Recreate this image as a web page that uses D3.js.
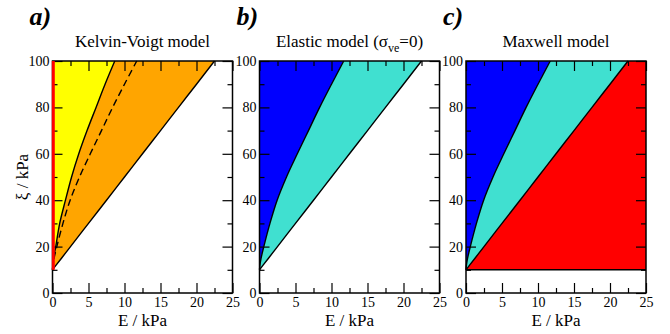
<!DOCTYPE html>
<html>
<head>
<meta charset="utf-8">
<script src="https://cdn.jsdelivr.net/npm/d3@7"></script>
</head>
<body style="margin:0">
<script>
// xi (kPa) sampled along the boundaries, and E (kPa) of each boundary at those xi
var xiGrid   = [10, 12, 15, 20, 30, 40, 50, 60, 70, 80, 90, 100];
var kvE      = [0, 0.05, 0.15, 0.45, 1.0, 1.8, 2.65, 3.65, 4.8, 6.05, 7.3, 8.65];
var elasticE = [0, 0.06, 0.22, 0.6, 1.45, 2.45, 3.75, 5.25, 6.8, 8.35, 10.0, 11.7];
var lineE    = [0, 0.5, 1.25, 2.5, 5, 7.5, 10, 12.5, 15, 17.5, 20, 22.5];
var zeroE    = [0, 0, 0, 0, 0, 0, 0, 0, 0, 0, 0, 0];
var maxE     = [25, 25, 25, 25, 25, 25, 25, 25, 25, 25, 25, 25];

var xTicks = [0, 5, 10, 15, 20, 25];
var xMinor = [2.5, 7.5, 12.5, 17.5, 22.5];
var yTicks = [0, 20, 40, 60, 80, 100];
var yMinor = [10, 30, 50, 70, 90];

var panelTags = ["a)", "b)", "c)"];
var titles = ["Kelvin-Voigt model", "Elastic model", "Maxwell model"];

var W = 670, H = 334;
var panelLeft = [52.5, 259.5, 466];
var pw = 180, top0 = 61, ph = 232;

var svg = d3.select("body").append("svg")
  .attr("width", W)
  .attr("height", H);

svg.append("style").text("svg text, svg tspan { font-family: 'Liberation Serif', 'Times New Roman', serif !important; }");

var y = d3.scaleLinear().domain([0, 100]).range([top0 + ph, top0]);

var rows = xiGrid.map(function(xi, i) {
  return { xi: xi, kv: kvE[i], el: elasticE[i], ln: lineE[i], z: zeroE[i], mx: maxE[i] };
});

var panels = [
  { fills: [["z", "kv", "#ffff00"], ["kv", "ln", "#ffa500"]],
    lines: [["kv", null], ["el", "7,4"], ["ln", null]] },
  { fills: [["z", "el", "#0000ff"], ["el", "ln", "#40e0d0"]],
    lines: [["el", null], ["ln", null]] },
  { fills: [["z", "el", "#0000ff"], ["el", "ln", "#40e0d0"], ["ln", "mx", "#ff0000"]],
    lines: [["el", null], ["ln", null]] }
];

var smooth = d3.curveCatmullRom.alpha(0.5);

function label(sel, size) {
  return sel
    .attr("font-family", "Liberation Serif")
    .style("font-family", function() { return "'Liberation Serif'"; })
    .style("font-size", size + "px")
    .style("fill", "#000");
}

panels.forEach(function(p, k) {
  var x = d3.scaleLinear().domain([0, 25]).range([panelLeft[k], panelLeft[k] + pw]);
  var g = svg.append("g");

  p.fills.forEach(function(f) {
    var area = d3.area()
      .y(function(d) { return y(d.xi); })
      .x0(function(d) { return x(d[f[0]]); })
      .x1(function(d) { return x(d[f[1]]); })
      .curve(smooth);
    g.append("path").datum(rows).attr("d", area).attr("fill", f[2]).attr("stroke", "none");
  });

  p.lines.forEach(function(l) {
    var line = d3.line()
      .x(function(d) { return x(d[l[0]]); })
      .y(function(d) { return y(d.xi); })
      .curve(smooth);
    g.append("path").datum(rows).attr("d", line)
      .attr("fill", "none").attr("stroke", "#000").attr("stroke-width", 1.4)
      .attr("stroke-dasharray", l[1]);
  });

  if (k === 2) {
    g.append("line")
      .attr("x1", x(0)).attr("x2", x(25))
      .attr("y1", y(10)).attr("y2", y(10))
      .attr("stroke", "#000").attr("stroke-width", 1.4);
  }

  // inward ticks on all four sides
  function axisG(axis, tx, ty) {
    var a = g.append("g").attr("transform", "translate(" + tx + "," + ty + ")").call(axis);
    a.attr("font-family", null);
    a.select(".domain").remove();
    a.selectAll("line").attr("stroke", "#000").attr("stroke-width", 1.2);
    label(a.selectAll("text"), 14);
    return a;
  }
  axisG(d3.axisBottom(x).tickValues(xTicks).tickSize(-10).tickPadding(4).tickFormat(d3.format("d")), 0, top0 + ph);
  axisG(d3.axisBottom(x).tickValues(xMinor).tickSize(-5).tickFormat(""), 0, top0 + ph);
  axisG(d3.axisTop(x).tickValues(xTicks).tickSize(-10).tickFormat(""), 0, top0);
  axisG(d3.axisTop(x).tickValues(xMinor).tickSize(-5).tickFormat(""), 0, top0);
  axisG(d3.axisLeft(y).tickValues(yTicks).tickSize(-10).tickPadding(3).tickFormat(d3.format("d")), panelLeft[k], 0);
  axisG(d3.axisLeft(y).tickValues(yMinor).tickSize(-5).tickFormat(""), panelLeft[k], 0);
  axisG(d3.axisRight(y).tickValues(yTicks).tickSize(-10).tickFormat(""), panelLeft[k] + pw, 0);
  axisG(d3.axisRight(y).tickValues(yMinor).tickSize(-5).tickFormat(""), panelLeft[k] + pw, 0);

  g.append("rect")
    .attr("x", panelLeft[k]).attr("y", top0)
    .attr("width", pw).attr("height", ph)
    .attr("fill", "none").attr("stroke", "#000").attr("stroke-width", 1.5);

  if (k === 0) {
    g.append("line")
      .attr("x1", x(0) + 0.8).attr("x2", x(0) + 0.8)
      .attr("y1", y(10)).attr("y2", y(100))
      .attr("stroke", "#ff0000").attr("stroke-width", 3);
  }

  // panel tag and title
  label(svg.append("text"), 26)
    .attr("x", panelLeft[k] - 23).attr("y", 25)
    .style("font-weight", "bold").style("font-style", "italic")
    .text(panelTags[k]);

  var t = label(svg.append("text"), 17)
    .attr("x", panelLeft[k] + pw / 2).attr("y", 47)
    .attr("text-anchor", "middle")
    .text(titles[k]);
  if (k === 1) {
    t.append("tspan").text(" (σ");
    t.append("tspan").style("font-size", "12px").attr("dy", 5).text("ve");
    t.append("tspan").attr("dy", -5).text("=0)");
  }

  label(svg.append("text"), 17)
    .attr("x", panelLeft[k] + pw / 2).attr("y", 326)
    .attr("text-anchor", "middle")
    .text("E / kPa");
});

label(svg.append("text"), 17)
  .attr("transform", "translate(28," + (top0 + ph / 2) + ") rotate(-90)")
  .attr("text-anchor", "middle")
  .text("ξ / kPa");
</script>
</body>
</html>
